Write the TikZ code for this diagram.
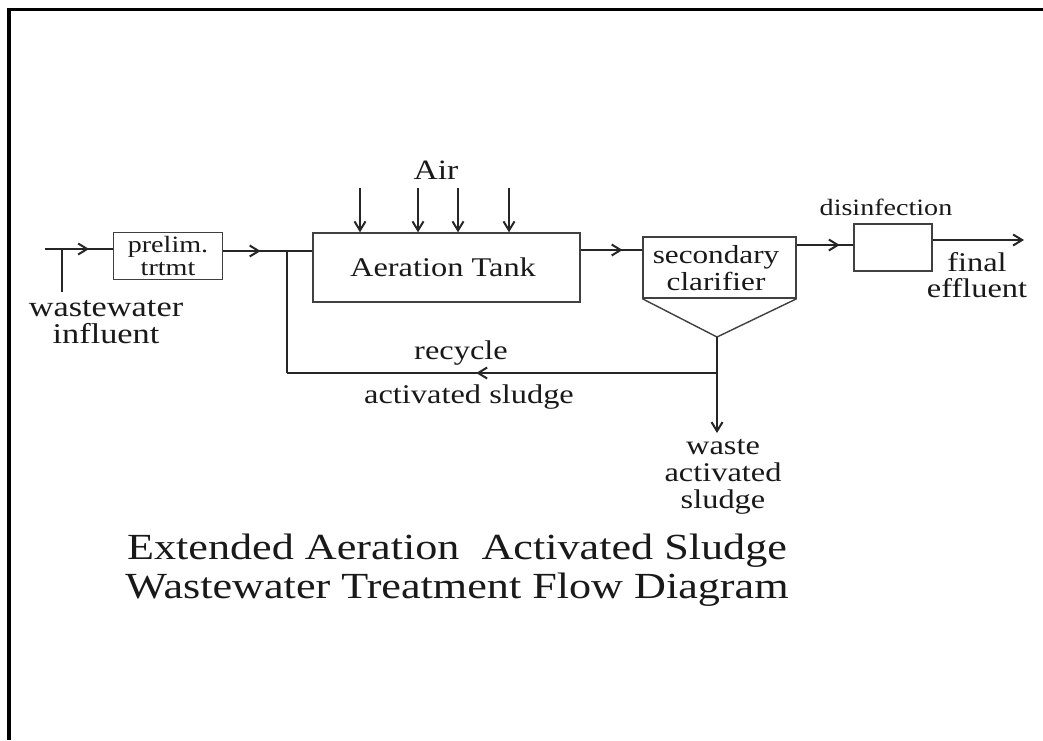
\documentclass[tikz,border=0pt]{standalone}
\usepackage{fontspec}
\setmainfont[FakeStretch=1.2]{Liberation Serif}
\usetikzlibrary{arrows.meta,decorations.markings}

\begin{document}
\begin{tikzpicture}[x=1pt,y=-1pt,
  box/.style={draw=black!75, line width=1.4pt, inner sep=0pt, align=center, text=black!90},
  flow/.style={draw=black!85, line width=2pt},
  barb/.style={-{Straight Barb[length=9pt,width=11pt]}},
  midarrow/.style={postaction={decorate}, decoration={markings,
      mark=at position #1 with {\arrow{Straight Barb[length=9pt,width=11pt]}}}},
  lbl/.style={inner sep=0pt, align=center, text=black!90},
  mainfont/.style={font=\fontsize{27}{27}\selectfont},
  smallfont/.style={font=\fontsize{23.4}{22.5}\selectfont},
]
\useasboundingbox[fill=white] (0,0) rectangle (1043,740);

% open frame: top and left edges only
\draw[line width=3.2pt] (9,740) -- (9,9.5) -- (1043,9.5);

% process units
\node[box, smallfont, minimum width=109pt, minimum height=47pt] (prelim) at (168,256) {prelim.\\trtmt};
\node[box, minimum width=267pt, minimum height=69pt] (tank) at (446.5,267.5) {};
\node[lbl, mainfont] (tanklbl) at (443,267) {Aeration Tank};
\node[box, minimum width=153pt, minimum height=61pt] (clar) at (719.5,267.5) {};
\node[lbl, font=\fontsize{26}{27}\selectfont] (clarlbl) at (716,268) {secondary\\clarifier};
\coordinate (apex) at (717,337);
\draw[draw=black!75, line width=1.4pt] (clar.south west) -- (apex) -- (clar.south east);
\node[box, minimum width=78pt, minimum height=47pt] (dis) at (893,247.5) {};

% labels
\node[lbl, font=\fontsize{28}{25}\selectfont] (air) at (436,170) {Air};
\node[lbl, smallfont] (dislbl) at (886,207) {disinfection};
\node[lbl, font=\fontsize{28.6}{27}\selectfont] (infl) at (106,322) {wastewater\\influent};
\node[lbl, font=\fontsize{27}{26}\selectfont] (eff) at (977,275) {final\\effluent};
\node[lbl, mainfont] (rec) at (461,353) {recycle};
\node[lbl, mainfont] (ras) at (469,397) {activated sludge};
\node[lbl, mainfont] (was) at (723,477) {waste\\activated\\sludge};
\node[lbl, font=\fontsize{36.8}{39.5}\selectfont] (title) at (457,570)
  {Extended Aeration\ \ Activated Sludge\\Wastewater Treatment Flow Diagram};

% flow coordinates
\coordinate (in) at (45,249);
\coordinate (inTee) at (62,249);
\coordinate (inFoot) at (62,292);
\coordinate (join) at (287,251);
\coordinate (retCorner) at (287,373);
\coordinate (split) at (717,373);
\coordinate (wasEnd) at (717,433);
\coordinate (out) at (1024,240);

% main flow
\draw[flow, midarrow=0.65] (in) -- (in -| prelim.west);
\draw[flow] (inTee) -- (inFoot);
\draw[flow, midarrow=0.42] (prelim.east |- join) -- (tank.west |- join);
\draw[flow, midarrow=0.68] (tank.east |- 0,250) -- (clar.west |- 0,250);
\draw[flow, midarrow=0.76] (clar.east |- 0,245) -- (dis.west |- 0,245);
\draw[flow, barb] (dis.east |- out) -- (out);

% air supply
\foreach \ax in {360,418,458,509}
  \draw[flow, barb] (\ax,188) -- (tank.north -| \ax,0);

% sludge return and wasting
\draw[flow] (apex) -- (split);
\draw[flow, midarrow=0.56] (split) -- (retCorner);
\draw[flow] (retCorner) -- (join);
\draw[flow, barb] (split) -- (wasEnd);
\end{tikzpicture}
\end{document}
